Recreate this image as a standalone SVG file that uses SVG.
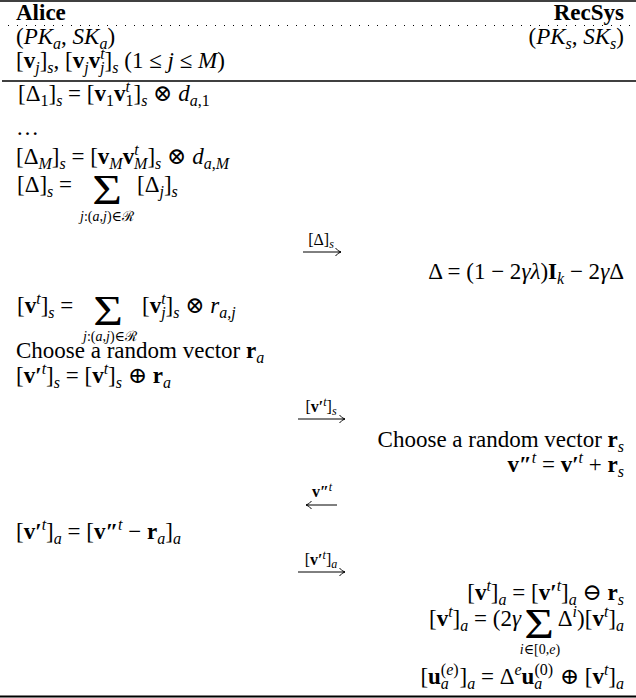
<svg xmlns="http://www.w3.org/2000/svg" width="636" height="698" viewBox="0 0 636 698">
<style>
text{font-family:"Liberation Serif","DejaVu Serif",serif;font-size:23px;fill:#000}
.i{font-style:italic}
.b{font-weight:bold}
.s{font-size:16px}
.l{font-size:16px}
.ss{font-size:12px}
.sm{font-size:14px}
.e{text-anchor:end}
.m{text-anchor:middle}
.big{font-size:34px;text-anchor:middle}
.rule{stroke:#000;fill:none}
.arr{stroke:#000;stroke-width:1;fill:none}
</style>
<defs>
<marker id="ah" viewBox="0 0 7 9" refX="6.5" refY="4.5" markerWidth="7" markerHeight="9" markerUnits="userSpaceOnUse" orient="auto">
<path d="M1 0.5 Q3.5 3.8 6.5 4.5 Q3.5 5.2 1 8.5" fill="none" stroke="#000" stroke-width="1"/>
</marker>
</defs>
<g id="rules">
<line class="rule" x1="0" y1="1" x2="636" y2="1" stroke-width="1.5"/>
<line class="rule" x1="8" y1="25.5" x2="632" y2="25.5" stroke="#999" stroke-width="1" stroke-dasharray="1 8"/>
<line class="rule" x1="2" y1="81" x2="636" y2="81" stroke-width="1.3"/>
<line class="rule" x1="0" y1="696.5" x2="636" y2="696.5" stroke="#333" stroke-width="2.2"/>
</g>
<g id="alice-header">
<text class="b" x="16" y="20">Alice</text>
<text x="16" y="44">(<tspan class="i">PK</tspan><tspan class="s i" dy="5">a</tspan><tspan dy="-5">, </tspan><tspan class="i">SK</tspan><tspan class="s i" dy="5">a</tspan><tspan dy="-5">)</tspan></text>
<text x="16" y="68">[<tspan class="b">v</tspan><tspan class="s i" dy="5">j</tspan><tspan dy="-5">]</tspan><tspan class="s i" dy="5">s</tspan><tspan dy="-5">, [</tspan><tspan class="b">v</tspan><tspan class="s i" dy="5">j</tspan><tspan class="b" dy="-5">v</tspan><tspan class="s i" dy="-9">t</tspan><tspan class="s i" dx="-4.5" dy="14">j</tspan><tspan dy="-5">]</tspan><tspan class="s i" dy="5">s</tspan><tspan dy="-5"> (1 ≤ </tspan><tspan class="i">j</tspan> ≤ <tspan class="i">M</tspan>)</text>
</g>
<g id="recsys-header">
<text class="b e" x="624" y="20">RecSys</text>
<text class="e" x="624" y="44">(<tspan class="i">PK</tspan><tspan class="s i" dy="5">s</tspan><tspan dy="-5">, </tspan><tspan class="i">SK</tspan><tspan class="s i" dy="5">s</tspan><tspan dy="-5">)</tspan></text>
</g>
<g id="alice-delta">
<text x="18" y="101">[Δ<tspan class="s" dy="5">1</tspan><tspan dy="-5">]</tspan><tspan class="s i" dy="5">s</tspan><tspan dy="-5"> = [</tspan><tspan class="b">v</tspan><tspan class="s" dy="5">1</tspan><tspan class="b" dy="-5">v</tspan><tspan class="s i" dy="-9">t</tspan><tspan class="s" dx="-4.5" dy="14">1</tspan><tspan dy="-5">]</tspan><tspan class="s i" dy="5">s</tspan><tspan dy="-5"> ⊗ </tspan><tspan class="i">d</tspan><tspan class="s" dy="5"><tspan class="i">a</tspan>,1</tspan></text>
<text x="16" y="135">…</text>
<text x="16" y="164">[Δ<tspan class="s i" dy="5">M</tspan><tspan dy="-5">]</tspan><tspan class="s i" dy="5">s</tspan><tspan dy="-5"> = [</tspan><tspan class="b">v</tspan><tspan class="s i" dy="5">M</tspan><tspan class="b" dy="-5">v</tspan><tspan class="s i" dy="-9">t</tspan><tspan class="s i" dx="-4.5" dy="14">M</tspan><tspan dy="-5">]</tspan><tspan class="s i" dy="5">s</tspan><tspan dy="-5"> ⊗ </tspan><tspan class="i">d</tspan><tspan class="s" dy="5"><tspan class="i">a</tspan>,<tspan class="i">M</tspan></tspan></text>
<text x="17" y="192">[Δ]<tspan class="s i" dy="5">s</tspan><tspan dy="-5"> =</tspan></text>
<text class="big" transform="translate(107,204) scale(1.5,1.22)">Σ</text>
<text x="137" y="192">[Δ<tspan class="s i" dy="5">j</tspan><tspan dy="-5">]</tspan><tspan class="s i" dy="5">s</tspan></text>
<text class="sm m" x="107" y="221"><tspan class="i">j</tspan>:(<tspan class="i">a</tspan>,<tspan class="i">j</tspan>)∈ℛ</text>
</g>
<g id="recsys-delta">
<text class="e" x="624" y="279">Δ = (1 − 2<tspan class="i">γλ</tspan>)<tspan class="b">I</tspan><tspan class="s i" dy="5">k</tspan><tspan dy="-5"> − 2</tspan><tspan class="i">γ</tspan>Δ</text>
</g>
<g id="alice-mask">
<text x="17" y="313">[<tspan class="b">v</tspan><tspan class="s i" dy="-9">t</tspan><tspan dy="9">]</tspan><tspan class="s i" dy="5">s</tspan><tspan dy="-5"> =</tspan></text>
<text class="big" transform="translate(108,325) scale(1.5,1.22)">Σ</text>
<text x="142" y="313">[<tspan class="b">v</tspan><tspan class="s i" dy="-9">t</tspan><tspan class="s i" dx="-4.5" dy="14">j</tspan><tspan dy="-5">]</tspan><tspan class="s i" dy="5">s</tspan><tspan dy="-5"> ⊗ </tspan><tspan class="i">r</tspan><tspan class="s i" dy="5">a,j</tspan></text>
<text class="sm m" x="110" y="341"><tspan class="i">j</tspan>:(<tspan class="i">a</tspan>,<tspan class="i">j</tspan>)∈ℛ</text>
<text x="16" y="358">Choose a random vector <tspan class="b">r</tspan><tspan class="s i" dy="5">a</tspan></text>
<text x="16" y="383">[<tspan class="b">v′</tspan><tspan class="s i" dy="-9">t</tspan><tspan dy="9">]</tspan><tspan class="s i" dy="5">s</tspan><tspan dy="-5"> = [</tspan><tspan class="b">v</tspan><tspan class="s i" dy="-9">t</tspan><tspan dy="9">]</tspan><tspan class="s i" dy="5">s</tspan><tspan dy="-5"> ⊕ </tspan><tspan class="b">r</tspan><tspan class="s i" dy="5">a</tspan></text>
</g>
<g id="recsys-mask">
<text class="e" x="624" y="447">Choose a random vector <tspan class="b">r</tspan><tspan class="s i" dy="5">s</tspan></text>
<text class="e" x="624" y="472"><tspan class="b">v″</tspan><tspan class="s i" dy="-9">t</tspan><tspan dy="9"> = </tspan><tspan class="b">v′</tspan><tspan class="s i" dy="-9">t</tspan><tspan dy="9"> + </tspan><tspan class="b">r</tspan><tspan class="s i" dy="5">s</tspan></text>
</g>
<g id="alice-unmask">
<text x="16" y="539">[<tspan class="b">v′</tspan><tspan class="s i" dy="-9">t</tspan><tspan dy="9">]</tspan><tspan class="s i" dy="5">a</tspan><tspan dy="-5"> = [</tspan><tspan class="b">v″</tspan><tspan class="s i" dy="-9">t</tspan><tspan dy="9"> − </tspan><tspan class="b">r</tspan><tspan class="s i" dy="5">a</tspan><tspan dy="-5">]</tspan><tspan class="s i" dy="5">a</tspan></text>
</g>
<g id="recsys-update">
<text class="e" x="624" y="600">[<tspan class="b">v</tspan><tspan class="s i" dy="-9">t</tspan><tspan dy="9">]</tspan><tspan class="s i" dy="5">a</tspan><tspan dy="-5"> = [</tspan><tspan class="b">v′</tspan><tspan class="s i" dy="-9">t</tspan><tspan dy="9">]</tspan><tspan class="s i" dy="5">a</tspan><tspan dy="-5"> ⊖ </tspan><tspan class="b">r</tspan><tspan class="s i" dy="5">s</tspan></text>
<text class="e" x="521" y="626">[<tspan class="b">v</tspan><tspan class="s i" dy="-9">t</tspan><tspan dy="9">]</tspan><tspan class="s i" dy="5">a</tspan><tspan dy="-5"> = (2</tspan><tspan class="i">γ</tspan></text>
<text class="big" transform="translate(539,638) scale(1.5,1.22)">Σ</text>
<text class="e" x="624" y="626">Δ<tspan class="s i" dy="-9">i</tspan><tspan dy="9">)[</tspan><tspan class="b">v</tspan><tspan class="s i" dy="-9">t</tspan><tspan dy="9">]</tspan><tspan class="s i" dy="5">a</tspan></text>
<text class="sm m" x="540" y="654"><tspan class="i">i</tspan>∈[0,<tspan class="i">e</tspan>)</text>
<text class="e" x="624" y="684">[<tspan class="b">u</tspan><tspan class="s" dy="-9">(<tspan class="i">e</tspan>)</tspan><tspan class="s i" dx="-17.8" dy="14">a</tspan><tspan dx="10.7" dy="-5">]</tspan><tspan class="s i" dy="5">a</tspan><tspan dy="-5"> = Δ</tspan><tspan class="s i" dy="-9">e</tspan><tspan class="b" dy="9">u</tspan><tspan class="s" dy="-9">(0)</tspan><tspan class="s i" dx="-18.7" dy="14">a</tspan><tspan dx="11.6" dy="-5"> ⊕ [</tspan><tspan class="b">v</tspan><tspan class="s i" dy="-9">t</tspan><tspan dy="9">]</tspan><tspan class="s i" dy="5">a</tspan></text>
</g>
<g id="connectors">
<text class="l m" x="321" y="245">[Δ]<tspan class="ss i" dy="3">s</tspan></text>
<path class="arr" d="M303 252 H341" marker-end="url(#ah)"/>
<text class="l m" x="321" y="412">[<tspan class="b">v′</tspan><tspan class="ss i" dy="-6">t</tspan><tspan dy="6">]</tspan><tspan class="ss i" dy="3">s</tspan></text>
<path class="arr" d="M298 419 H345" marker-end="url(#ah)"/>
<text class="l m" x="322" y="497"><tspan class="b">v″</tspan><tspan class="ss i" dy="-6">t</tspan></text>
<path class="arr" d="M337 505 H306" marker-end="url(#ah)"/>
<text class="l m" x="321" y="565">[<tspan class="b">v′</tspan><tspan class="ss i" dy="-6">t</tspan><tspan dy="6">]</tspan><tspan class="ss i" dy="3">a</tspan></text>
<path class="arr" d="M298 572 H345" marker-end="url(#ah)"/>
</g>
</svg>
